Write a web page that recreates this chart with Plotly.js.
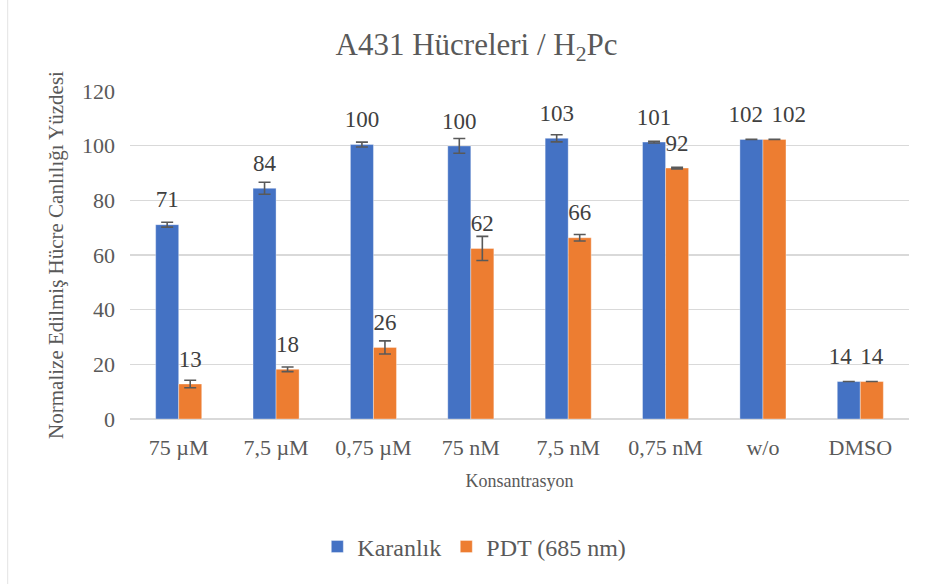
<!DOCTYPE html>
<html>
<head>
<meta charset="utf-8">
<script src="https://cdn.plot.ly/plotly-3.0.1.min.js"></script>
<style>
html,body{margin:0;padding:0;background:#fff;}
#chart{width:929px;height:584px;}
</style>
</head>
<body>
<div id="chart"></div>
<script>
const categories = ['75 µM', '7,5 µM', '0,75 µM', '75 nM', '7,5 nM', '0,75 nM', 'w/o', 'DMSO'];
const karanlik = [71.1, 84.4, 100.4, 99.9, 102.7, 101.3, 102.3, 13.7];
const pdt = [12.8, 18.2, 26.2, 62.4, 66.3, 91.8, 102.3, 13.7];
const karanlikErr = [0.9, 2.2, 0.9, 2.7, 1.3, 0.3, 0, 0];
const pdtErr = [1.35, 0.85, 2.4, 4.4, 1.2, 0.3, 0, 0];
const seriesNames = ['Karanlık', 'PDT (685 nm)'];
const colors = ['#4472C4', '#ED7D31'];

// label templates (no-break-space padding nudges the crowded labels apart, as in the original)
const NB = '\u00a0';
const tplK = categories.map(c => c === 'w/o' ? '%{y:.0f}' + NB + NB : c === 'DMSO' ? '%{y:.0f}' + NB + NB + NB : '%{y:.0f}');
const tplP = categories.map(c => c === 'w/o' ? NB + NB + NB + NB + NB + '%{y:.0f}' : '%{y:.0f}');

const serif = 'Liberation Serif, Times New Roman, serif';
const errStyle = {type: 'data', visible: true, color: '#595959', thickness: 1.6, width: 6};

const traces = [
  {type: 'bar', name: seriesNames[0], x: categories, y: karanlik,
   marker: {color: colors[0], line: {color: 'rgba(255,255,255,0.35)', width: 1}},
   error_y: Object.assign({array: karanlikErr}, errStyle), offsetgroup: 'a', hoverinfo: 'y'},
  {type: 'bar', name: seriesNames[1], x: categories, y: pdt,
   marker: {color: colors[1], line: {color: 'rgba(255,255,255,0.35)', width: 1}},
   error_y: Object.assign({array: pdtErr}, errStyle), offsetgroup: 'b', hoverinfo: 'y'},
  {type: 'scatter', mode: 'markers+text', x: categories, y: karanlik, offsetgroup: 'a',
   texttemplate: tplK, textposition: 'top center', showlegend: false, hoverinfo: 'skip',
   marker: {size: 17, opacity: 0}, textfont: {family: serif, size: 23, color: '#404040'}, cliponaxis: false},
  {type: 'scatter', mode: 'markers+text', x: categories, y: pdt, offsetgroup: 'b',
   texttemplate: tplP, textposition: 'top center', showlegend: false, hoverinfo: 'skip',
   marker: {size: 17, opacity: 0}, textfont: {family: serif, size: 23, color: '#404040'}, cliponaxis: false}
];

const layout = {
  width: 929, height: 584,
  margin: {l: 130, r: 20, t: 91, b: 165},
  paper_bgcolor: '#fff', plot_bgcolor: '#fff',
  barmode: 'group', bargap: 0.527, bargroupgap: 0,
  scattermode: 'group', scattergap: 0.527,
  title: {text: 'A431 Hücreleri / H<sub>2</sub>Pc', x: 0.513, xref: 'container', xanchor: 'center',
          y: 0.925, yref: 'container', yanchor: 'middle',
          font: {family: serif, size: 31, color: '#595959'}},
  font: {family: serif, color: '#595959'},
  xaxis: {type: 'category', showgrid: false, zeroline: false, showline: false, ticks: '',
          tickfont: {family: serif, size: 22, color: '#595959'}, ticklabelstandoff: 13,
          title: {text: 'Konsantrasyon', font: {family: serif, size: 18, color: '#595959'}, standoff: 15}},
  yaxis: {range: [0, 120], dtick: 20, showgrid: true, gridcolor: '#d9d9d9', gridwidth: 1.5,
          zeroline: true, zerolinecolor: '#d9d9d9', zerolinewidth: 1.5, showline: false, ticks: '',
          tickfont: {family: serif, size: 22, color: '#595959'}, ticklabelstandoff: 14,
          title: {text: 'Normalize Edilmiş Hücre Canlılığı Yüzdesi', font: {family: serif, size: 21, color: '#595959'}, standoff: 12}},
  legend: {orientation: 'h', x: 0.442, xanchor: 'center', y: -0.39, yanchor: 'middle',
           font: {family: serif, size: 24, color: '#595959'}, itemwidth: 30, traceorder: 'normal'},
  shapes: [{type: 'line', xref: 'paper', yref: 'paper', x0: -0.157, x1: -0.157, y0: -0.51, y1: 1.3,
            line: {color: '#e3e3e3', width: 1}}],
  showlegend: true
};

Plotly.newPlot('chart', traces, layout, {displayModeBar: false, staticPlot: true});
</script>
</body>
</html>
